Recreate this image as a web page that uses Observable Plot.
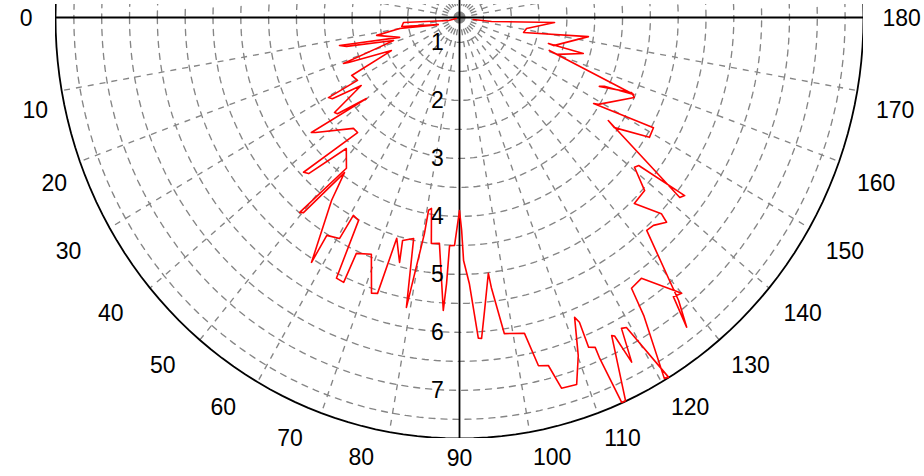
<!DOCTYPE html>
<html><head><meta charset="utf-8">
<script src="https://cdn.jsdelivr.net/npm/d3@7"></script>
<script src="https://cdn.jsdelivr.net/npm/@observablehq/plot@0.6"></script>
<style>body{margin:0;background:#fff}#chart svg{display:block}</style>
</head><body><div id="chart"></div>
<script>
// angle (degrees, 0 = left, 90 = down, 180 = right) and radius of the red trace
const thetaDeg = [17,14.7,4.9,8.5,17.8,10.0,11.7,17.7,12.6,13.8,18.5,19.7,20.8,21.3,25.0,27.3,30.6,30.4,31.5,33.6,36.1,37.1,39.9,36.7,37.5,45.1,47.3,43.6,44.8,48.0,52.0,49.5,50.2,52.3,53.9,57.8,57.6,60.5,60.8,62.6,63.8,65.5,65.5,68.8,71.6,72.8,73.5,75.7,75.1,77.8,79.2,80.4,80.5,81.3,82.6,84.7,86.7,87.1,87.4,88.7,90,90.6,91.0,92.2,93.5,94.1,95.1,96.7,97.0,98.4,102.1,103.3,104.9,106.0,108.4,110.1,111.8,112.3,112.2,113.2,113.2,113.7,114.3,116.5,116.9,117.5,118.5,119.3,121.2,120.6,122.8,123.5,126.0,130.0,128.6,127.4,128.9,132.5,134.2,136.5,137.0,134.4,138.1,140.6,141.6,142.8,141.9,146.4,145.7,148.8,151.4,148.4,149.0,156.3,157.3,154.7,155.5,157.0,160.6,160.1,164.4,164.3,164.0,171.9,167.3,171.0,177.1,173.2,172.2];
const radius = [0.63,0.77,1.58,1.62,0.97,1.66,2.09,1.70,2.78,2.66,1.82,2.15,2.80,2.71,1.92,2.75,2.70,3.30,3.25,2.69,3.35,3.32,2.75,3.89,3.83,3.27,3.27,4.44,4.39,3.61,3.87,4.99,4.95,3.95,4.47,5.56,5.02,4.95,4.48,4.51,5.58,5.59,5.04,4.95,5.58,5.55,4.54,4.93,4.55,4.47,5.66,4.35,3.94,3.90,4.50,4.48,5.63,5.16,4.51,4.50,3.90,4.24,4.76,5.16,6.11,6.12,5.64,5.01,5.26,6.08,6.14,6.74,6.78,7.22,7.24,6.78,6.14,6.25,6.71,6.76,6.95,7.82,7.82,6.70,6.73,7.27,6.67,6.70,7.82,7.80,6.68,6.17,6.13,6.78,6.73,7.29,6.84,5.55,5.57,5.70,5.53,5.06,5.04,4.64,4.68,5.65,5.60,3.78,3.94,4.56,4.54,3.40,3.48,4.00,3.92,3.35,3.43,3.97,2.28,2.44,2.88,2.23,2.33,2.91,1.75,1.79,2.28,1.15,0.82];

const gridRadii = [1,1.5,2,2.5,3,3.5,4,4.5,5,5.5,6,6.5,7,7.5];
const spokeAngles = [10,20,30,40,50,60,70,80,100,110,120,130,140,150,160,170,190,200,210,220,230,240,250,260,280,290,300,310,320,330,340,350];
const angleLabels = [0,10,20,30,40,50,60,70,80,90,100,110,120,130,140,150,160,170,180];
const radialLabels = [1,2,3,4,5,6,7];

const R0 = 0.57;     // radius at the centre
const RMAX = 7.83;   // radius at the outer rim
const LABEL_P = 7.6; // label anchor ring, plot units from the centre
const LABEL_P_BOTTOM = 7.5;

const rad = d => d * Math.PI / 180;
const px = (t, r) => -(r - R0) * Math.cos(rad(t));
const py = (t, r) => (r - R0) * Math.sin(rad(t));

const trace = thetaDeg.map((t, i) => ({t, r: radius[i]}));

const ringSteps = d3.range(0, 361, 2);
const rings = gridRadii.flatMap(g => ringSteps.map(t => ({g, t})));
const rim = ringSteps.map(t => ({t}));

const font = "Liberation Sans, Arial, Helvetica, sans-serif";
const PMAX = RMAX - R0;

function labelMark(d) {
  const ends = d === 0 || d === 180;
  const p = d === 90 ? LABEL_P_BOTTOM : LABEL_P;
  const c = Math.cos(rad(d)) ** 2, s = Math.sin(rad(d)) ** 2;
  let dx = 0, dy = ends ? 1 : 8 * c - 3 * s;
  if (d > 0 && d < 90) dx = d >= 30 ? -12 : 5;
  if (d === 0) dx = -4;
  return Plot.text([d], {
    x: -p * Math.cos(rad(d)),
    y: ends ? 0 : p * Math.sin(rad(d)),
    text: d => String(d),
    textAnchor: d < 90 ? "end" : d > 90 ? "start" : "middle",
    lineAnchor: ends ? "middle" : "top",
    dx, dy,
    fontSize: 23, fontFamily: font, fill: "black"
  });
}

const chart = Plot.plot({
  width: 924,
  height: 476,
  marginLeft: 55,
  marginRight: 61,
  marginTop: 4,
  marginBottom: 38,
  x: {domain: [-PMAX, PMAX], axis: null},
  y: {domain: [-0.224, PMAX], reverse: true, axis: null},
  style: {fontFamily: font, background: "#fff"},
  marks: [
    Plot.line(rings, {x: d => px(d.t, d.g), y: d => py(d.t, d.g), z: "g", stroke: "#858585", strokeWidth: 1.35, strokeDasharray: "6,6", clip: true}),
    Plot.link(spokeAngles, {x1: 0, y1: 0, x2: d => px(d, RMAX), y2: d => py(d, RMAX), stroke: "#858585", strokeWidth: 1.35, strokeDasharray: "6,6", clip: true}),
    Plot.line(rim, {x: d => px(d.t, RMAX), y: d => py(d.t, RMAX), stroke: "black", strokeWidth: 1.8, clip: true}),
    Plot.ruleY([0], {stroke: "black", strokeWidth: 1.8}),
    Plot.ruleX([0], {y1: -0.3, y2: PMAX, stroke: "black", strokeWidth: 1.8}),
    Plot.line(trace, {x: d => px(d.t, d.r), y: d => py(d.t, d.r), stroke: "#ff0000", strokeWidth: 1.6}),
    ...angleLabels.map(labelMark),
    Plot.text(radialLabels, {x: 0, y: d => d - R0, text: d => String(d), dx: -22, fontSize: 23, fontFamily: font, fill: "black"})
  ]
});
document.getElementById("chart").appendChild(chart);
</script>
</body></html>
